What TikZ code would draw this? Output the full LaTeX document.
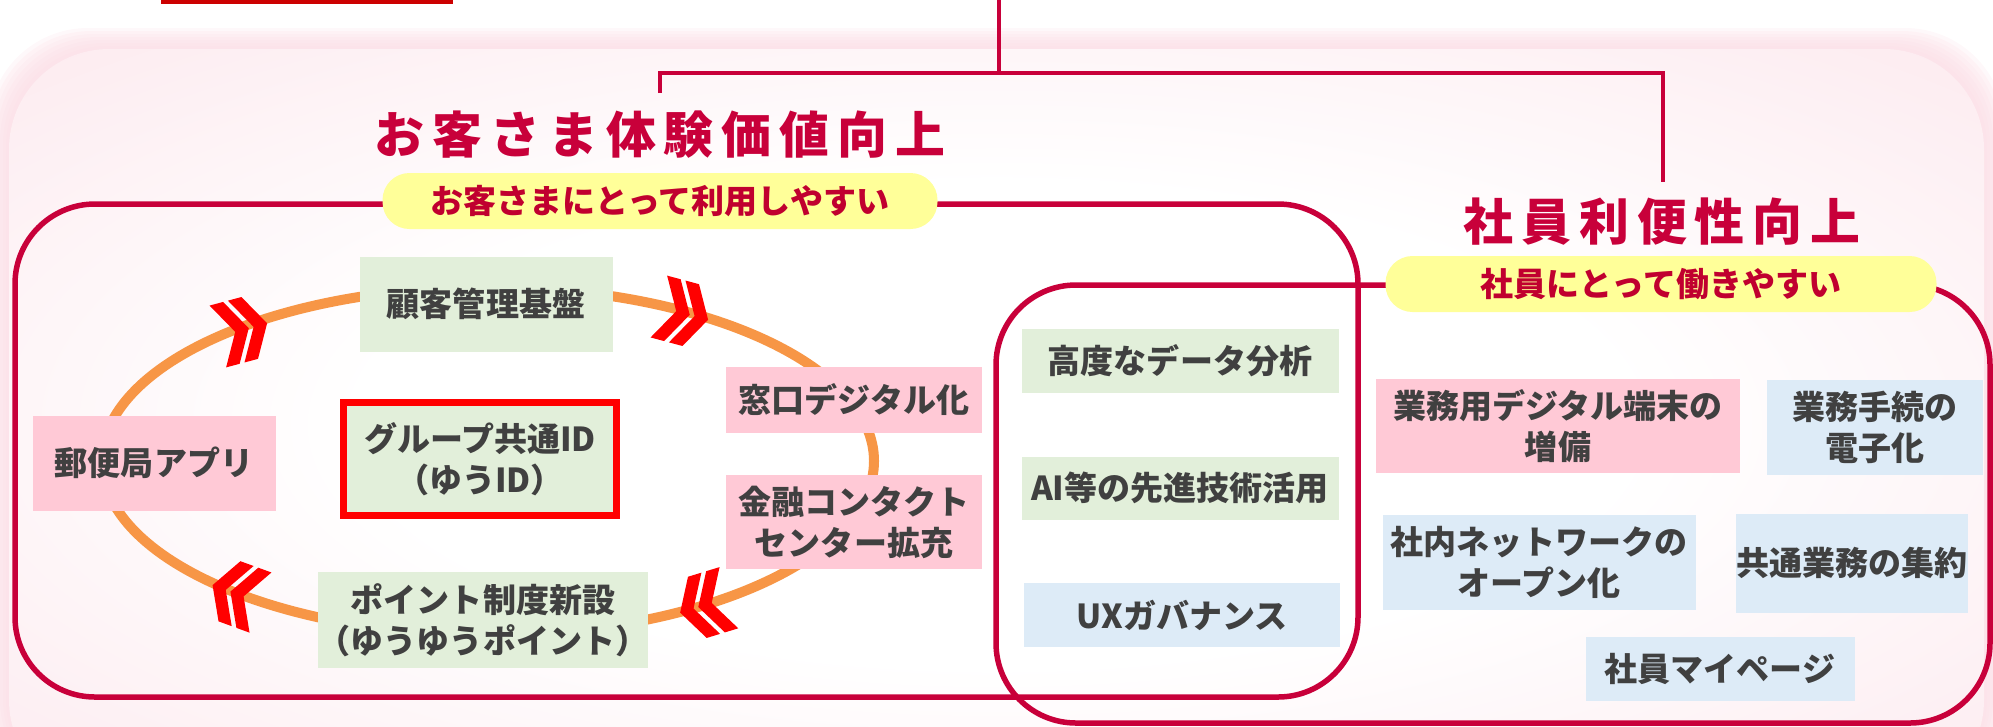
\documentclass[tikz,border=0pt]{standalone}
\usepackage{fontspec}
\setmainfont{Noto Sans CJK JP}
\usepackage{xcolor}
\usepackage{tikz}
\definecolor{frame}{HTML}{C8003A}
\definecolor{headred}{HTML}{C8003A}
\definecolor{pilltext}{HTML}{C0002F}
\definecolor{topbar}{HTML}{CC0000}
\definecolor{bgpink}{HTML}{FBDCE4}
\definecolor{ringorange}{HTML}{F79646}
\definecolor{chevred}{HTML}{FF0000}
\definecolor{idred}{HTML}{FF0000}
\definecolor{boxgreen}{HTML}{E2EFDA}
\definecolor{boxpink}{HTML}{FFC9D6}
\definecolor{boxblue}{HTML}{DDEBF7}
\definecolor{boxtext}{HTML}{404040}
\definecolor{pillyellow}{HTML}{FFFF99}
\pgfdeclareradialshading{bgglow}{\pgfpoint{0bp}{0bp}}{color(0bp)=(white); color(16bp)=(white); color(44bp)=(bgpink!83!white); color(100bp)=(bgpink!83!white)}
\newcommand\boxfont{\fontsize{9.4}{11.7}\selectfont\bfseries}
\newcommand\pillfont{\fontsize{9.4}{11.7}\selectfont\bfseries}
\newcommand\headfont{\fontsize{14.2}{17}\selectfont\bfseries\addfontfeatures{LetterSpace=16}}

\begin{document}
\begin{tikzpicture}[x=0.1mm, y=-0.1mm,
  box/.style={inner sep=0pt, align=center, text=boxtext, font=\boxfont},
  gbox/.style={box, fill=boxgreen},
  pbox/.style={box, fill=boxpink},
  bbox/.style={box, fill=boxblue},
  treeline/.style={draw=frame, line width=0.35mm},
  frameline/.style={draw=frame, line width=0.55mm, rounded corners=8mm},
  head/.style={inner sep=0pt, text=headred, font=\headfont},
  pill/.style={fill=pillyellow, rounded corners=2.7mm, inner sep=0pt, minimum height=5.6mm, text=pilltext, font=\pillfont},
  ring/.style={draw=ringorange, line width=1mm},
  chevpair/.pic={
    \fill[chevred] (-25,-32) -- (-11,-32) -- (7,0) -- (-11,32) -- (-25,32) -- (-7,0) -- cycle;
    \fill[chevred] (-6,-32) -- (8,-32) -- (26,0) -- (8,32) -- (-6,32) -- (12,0) -- cycle;
  }]
\useasboundingbox (0,0) rectangle (1993,726);
% soft pink backdrop
\begin{scope}
\clip (0,0) rectangle (1993,726);
\foreach \i in {0,...,7}
  \fill[bgpink, opacity=0.2, rounded corners=10mm] (-12+3*\i,28+3*\i) rectangle (2005-3*\i,800);
\shade[shading=bgglow, rounded corners=10mm] (9,49) rectangle (1984,800);
\end{scope}
\fill[topbar] (161,0) rectangle (453,4);

% tree from above
\coordinate (top) at (999,0);
\coordinate (bar) at (999,73);
\coordinate (custdrop) at (660,93);
\coordinate (empdrop) at (1663,182);
\draw[treeline] (top) -- (bar);
\draw[treeline] (custdrop) |- (bar) -| (empdrop);

% the two frames
\draw[frameline] (15,204) rectangle (1358,697);
\draw[frameline] (996,285) rectangle (1990,723);

\node[head] (custhead) at (660,135) {お客さま体験価値向上};
\node[pill, minimum width=55.5mm] (custpill) at (660,201) {お客さまにとって利用しやすい};
\node[head] (emphead) at (1662,222) {社員利便性向上};
\node[pill, minimum width=55.1mm] (emppill) at (1661,284) {社員にとって働きやすい};

% cycle round the shared ID
\draw[ring] (488,461) ellipse [x radius=386, y radius=174];
\pic[rotate=15] at (242,330) {chevpair};
\pic[rotate=-15] at (683,313) {chevpair};
\pic[rotate=197] at (705,605) {chevpair};
\pic[rotate=160] at (237,594) {chevpair};

\node[gbox, minimum width=25.3mm, minimum height=9.5mm] (crm) at (486,304) {顧客管理基盤};
\node[pbox, minimum width=24.3mm, minimum height=9.5mm] (app) at (154,463) {郵便局アプリ};
\node[gbox, draw=idred, line width=0.7mm, minimum width=27.3mm, minimum height=11.3mm] (yuid) at (480,459) {グループ共通ID\\（ゆうID）};
\node[pbox, minimum width=25.6mm, minimum height=6.6mm] (window) at (854,400) {窓口デジタル化};
\node[pbox, minimum width=25.6mm, minimum height=9.4mm] (contact) at (854,522) {金融コンタクト\\センター拡充};
\node[gbox, minimum width=32.6mm, minimum height=9.6mm] (point) at (483,620) {ポイント制度新設\\（ゆうゆうポイント）};

% shared middle column
\node[gbox, minimum width=31.7mm, minimum height=6.4mm] (data) at (1180,361) {高度なデータ分析};
\node[gbox, minimum width=31.7mm, minimum height=6.3mm] (ai) at (1180,488) {AI等の先進技術活用};
\node[bbox, minimum width=31.6mm, minimum height=6.4mm] (ux) at (1182,615) {UXガバナンス};

% employee side
\node[pbox, minimum width=36.4mm, minimum height=9.4mm] (terminal) at (1558,426) {業務用デジタル端末の\\増備};
\node[bbox, minimum width=21.6mm, minimum height=9.5mm] (eproc) at (1875,427) {業務手続の\\電子化};
\node[bbox, minimum width=31.3mm, minimum height=9.5mm] (network) at (1539,562) {社内ネットワークの\\オープン化};
\node[bbox, minimum width=22.9mm, minimum height=9.9mm] (shared) at (1852,563) {共通業務の集約};
\node[bbox, minimum width=26.9mm, minimum height=6.4mm] (mypage) at (1720,669) {社員マイページ};
\end{tikzpicture}
\end{document}
